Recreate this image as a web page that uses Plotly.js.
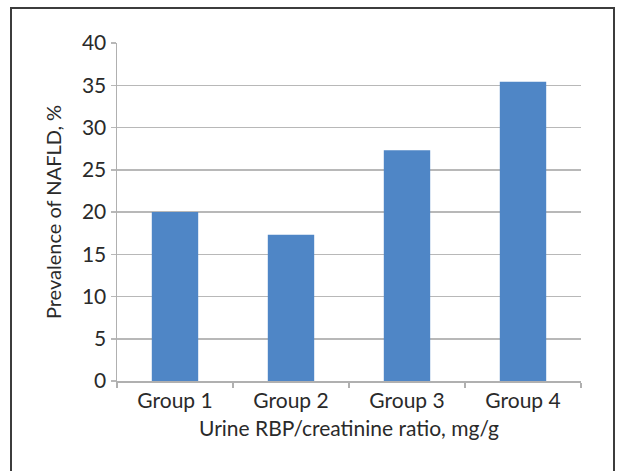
<!DOCTYPE html>
<html>
<head>
<meta charset="utf-8">
<script src="https://cdn.plot.ly/plotly-3.0.1.min.js"></script>
<style>
  html, body { margin: 0; padding: 0; background: #fff; }
  #wrap { position: relative; width: 617px; height: 471px; overflow: hidden; }
  #chart { position: absolute; left: 0; top: 0; width: 617px; height: 471px; }
  #frame { position: absolute; left: 10px; top: 7px; width: 605px; height: 500px;
           border: 2px solid #3c3c3c; box-sizing: border-box; pointer-events: none; }
</style>
</head>
<body>
<div id="wrap">
  <div id="chart"></div>
  <div id="frame"></div>
</div>
<script>
const categories = ["Group 1", "Group 2", "Group 3", "Group 4"];
const prevalence = [20.0, 17.3, 27.3, 35.4];
const yTicks = [0, 5, 10, 15, 20, 25, 30, 35, 40];
const xTitle = "Urine RBP/creatinine ratio, mg/g";
const yTitle = "Prevalence of NAFLD, %";

const fontFam = "Lato, 'Open Sans', sans-serif";
const textCol = "#2a2a2a";

Plotly.newPlot("chart", [{
  type: "bar",
  x: categories,
  y: prevalence,
  marker: { color: "#4F86C6", line: { width: 0 } },
  hoverinfo: "skip"
}], {
  width: 617,
  height: 471,
  margin: { l: 117, r: 36, t: 43, b: 90 },
  paper_bgcolor: "#ffffff",
  plot_bgcolor: "#ffffff",
  bargap: 0.6,
  showlegend: false,
  font: { family: fontFam, color: textCol },
  xaxis: {
    type: "category",
    showline: true,
    linecolor: "#b0b0b0",
    linewidth: 1.5,
    ticks: "outside",
    tickson: "boundaries",
    ticklen: 5,
    tickcolor: "#b0b0b0",
    tickwidth: 1.5,
    showgrid: false,
    tickfont: { size: 21, family: fontFam, color: textCol },
    title: { text: xTitle, font: { size: 21, family: fontFam, color: textCol }, standoff: 10 },
    automargin: false
  },
  yaxis: {
    range: [0, 40],
    tickvals: yTicks,
    ticktext: yTicks.map(String),
    showline: true,
    linecolor: "#b0b0b0",
    linewidth: 1.5,
    ticks: "outside",
    ticklen: 5,
    tickcolor: "#b8b8b8",
    tickwidth: 1.5,
    showgrid: true,
    gridcolor: "#b8b8b8",
    gridwidth: 1.5,
    zeroline: false,
    tickfont: { size: 21, family: fontFam, color: textCol },
    title: { text: yTitle, font: { size: 20, family: fontFam, color: textCol }, standoff: 15 },
    automargin: false
  }
}, { displayModeBar: false, staticPlot: true });
</script>
</body>
</html>
